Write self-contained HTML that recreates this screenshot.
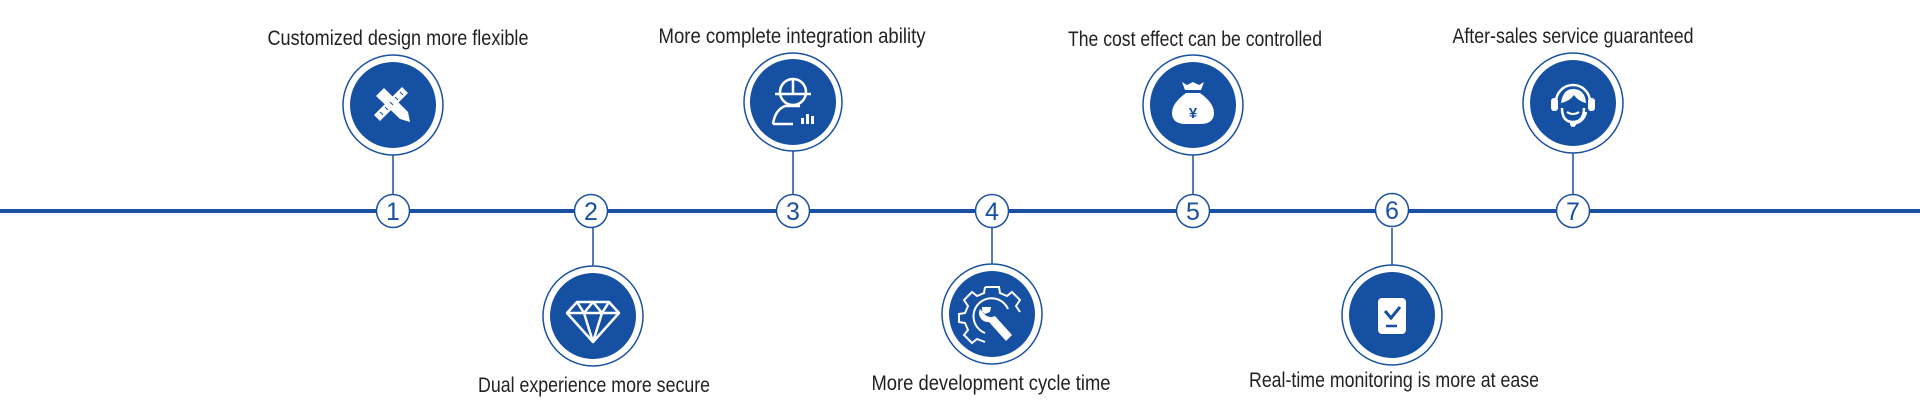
<!DOCTYPE html>
<html><head><meta charset="utf-8"><style>
html,body{margin:0;padding:0;background:#fff;width:1920px;height:419px;overflow:hidden}
svg{display:block}
text.l{font-family:"Liberation Sans Narrow","Liberation Sans",sans-serif;font-size:21px;fill:#222;text-anchor:middle}
text.n{font-family:"Liberation Sans",sans-serif;font-size:25px;fill:#1a50a2;text-anchor:middle}
</style></head><body>
<svg width="1920" height="419" viewBox="0 0 1920 419" xmlns="http://www.w3.org/2000/svg">
<rect x="0" y="209" width="1920" height="4" fill="#1a50a2"/>
<g stroke="#1a50a2" stroke-width="1.5">
<line x1="393" y1="154" x2="393" y2="195"/>
<line x1="593" y1="228" x2="593" y2="266"/>
<line x1="793" y1="151" x2="793" y2="195"/>
<line x1="992" y1="228" x2="992" y2="264"/>
<line x1="1193" y1="155" x2="1193" y2="195"/>
<line x1="1392" y1="228" x2="1392" y2="265"/>
<line x1="1573" y1="153" x2="1573" y2="195"/>
</g>
<g fill="#fff" stroke="#1a50a2" stroke-width="1.5">
<circle cx="393" cy="105" r="50"/><circle cx="593" cy="316" r="50"/>
<circle cx="793" cy="102" r="49"/><circle cx="992" cy="314" r="50"/>
<circle cx="1193" cy="105" r="50"/><circle cx="1392" cy="315" r="50"/>
<circle cx="1573" cy="103" r="50"/>
</g>
<g fill="#1650a2">
<circle cx="393" cy="105" r="43"/><circle cx="593" cy="316" r="43"/>
<circle cx="793" cy="102" r="43"/><circle cx="992" cy="314" r="43"/>
<circle cx="1193" cy="105" r="43"/><circle cx="1392" cy="315" r="43"/>
<circle cx="1573" cy="103" r="43"/>
</g>
<g fill="#fff" stroke="#1a50a2" stroke-width="1.5">
<circle cx="393" cy="211" r="16.5"/><circle cx="591" cy="211" r="16.5"/>
<circle cx="793" cy="211" r="16.5"/><circle cx="992" cy="211" r="16.5"/>
<circle cx="1193" cy="211" r="16.5"/><circle cx="1392" cy="210" r="16.5"/>
<circle cx="1573" cy="211" r="16.5"/>
</g>
<text class="n" x="393" y="220">1</text><text class="n" x="591" y="220">2</text>
<text class="n" x="793" y="220">3</text><text class="n" x="992" y="220">4</text>
<text class="n" x="1193" y="220">5</text><text class="n" x="1392" y="219">6</text>
<text class="n" x="1573" y="220">7</text>
<!-- icon 1 -->
<g fill="#fff">
<polygon points="376,96 384,88 408,112 410,122 400,119"/>
<polygon points="374,115 402,87 408,93 380,121"/>
</g>
<g stroke="#1650a2" stroke-width="1"><line x1="380" y1="112" x2="383" y2="115"/><line x1="385" y1="107" x2="388" y2="110"/><line x1="390" y1="102" x2="393" y2="105"/><line x1="395" y1="97" x2="398" y2="100"/><line x1="400" y1="92" x2="403" y2="95"/></g>
<!-- icon 2 diamond -->
<g fill="none" stroke="#fff" stroke-width="2.5" stroke-linejoin="round">
<polygon points="577,302 609,302 619,313 593,342 567,313"/>
<polyline points="567,313 619,313"/><polyline points="577,302 584,313 593,342 602,313 609,302"/><polyline points="584,313 593,302 602,313"/>
</g>
<!-- icon 3 -->
<g fill="none" stroke="#fff" stroke-width="2.5">
<circle cx="793" cy="92" r="13"/><line x1="775" y1="94" x2="811" y2="94"/><line x1="793" y1="79" x2="793" y2="94"/>
<path d="M773,124 Q775,110 785,106 L800,106"/><line x1="773" y1="124" x2="793" y2="124"/>
</g>
<g fill="#fff"><rect x="801" y="118" width="3" height="6"/><rect x="806" y="114" width="3" height="10"/><rect x="811" y="116" width="3" height="8"/></g>
<!-- icon 4 gear -->
<g fill="none" stroke="#fff" stroke-width="2">
<path d="M985,287 L999,287 L1000,293 L1007,296 L1012,292 L1020,300 L1016,306 L1020,312 M985,287 L984,293 L977,296 L972,292 L964,300 L968,306 L965,313 L959,314 L959,322 L965,323 L968,330 L964,335 L972,343 L977,339 L985,342"/>
<path d="M1008,309 A18,18 0 1 0 985,333"/>
</g>
<path fill="#fff" d="M982,307 a9,9 0 0 0 13,9 l17,19 l-6,6 l-17,-19 a9,9 0 0 1 -9,-13 l5,5 l5,-2 l1,-5 z"/>
<!-- icon 5 bag -->
<g fill="#fff">
<path d="M1182,82 l5,3 l6,-3 l6,3 l5,-3 l-3,8 h-16 z"/>
<path d="M1186,93 h14 q14,10 14,20 q0,10 -12,11 h-18 q-12,-1 -12,-11 q0,-10 14,-20 z"/>
</g>
<text x="1193" y="118" font-family="Liberation Sans,sans-serif" font-size="15" font-weight="bold" fill="#1650a2" text-anchor="middle">¥</text>
<!-- icon 6 -->
<rect x="1378" y="298" width="28" height="36" rx="4" fill="#fff"/>
<polyline points="1385,311 1391,318 1400,307" fill="none" stroke="#1650a2" stroke-width="3"/>
<line x1="1386" y1="326" x2="1397" y2="326" stroke="#1650a2" stroke-width="2.5"/>
<!-- icon 7 headset -->
<g fill="none" stroke="#fff" stroke-width="2.5">
<path d="M1556,102 a17,17 0 0 1 34,0"/><path d="M1562,108 q0,14 11,14 q11,0 11,-14"/>
<path d="M1586,112 q-2,10 -13,12"/>
</g>
<g fill="#fff">
<path d="M1561,103 q2,-14 12,-14 q12,0 13,14 q-8,-2 -12,-8 q-4,6 -13,8 z"/>
<rect x="1551" y="98" width="7" height="13" rx="3"/><rect x="1588" y="98" width="7" height="13" rx="3"/>
<circle cx="1573" cy="124" r="3"/>
</g>
<path d="M1567,112 q6,4 12,0" fill="none" stroke="#fff" stroke-width="2"/>
<!-- labels -->
<text class="l" x="398" y="45" textLength="261" lengthAdjust="spacingAndGlyphs">Customized design more flexible</text>
<text class="l" x="594" y="392" textLength="232" lengthAdjust="spacingAndGlyphs">Dual experience more secure</text>
<text class="l" x="792" y="43" textLength="267" lengthAdjust="spacingAndGlyphs">More complete integration ability</text>
<text class="l" x="991" y="390" textLength="239" lengthAdjust="spacingAndGlyphs">More development cycle time</text>
<text class="l" x="1195" y="46" textLength="254" lengthAdjust="spacingAndGlyphs">The cost effect can be controlled</text>
<text class="l" x="1394" y="387" textLength="290" lengthAdjust="spacingAndGlyphs">Real-time monitoring is more at ease</text>
<text class="l" x="1573" y="43" textLength="241" lengthAdjust="spacingAndGlyphs">After-sales service guaranteed</text>
</svg>
</body></html>
